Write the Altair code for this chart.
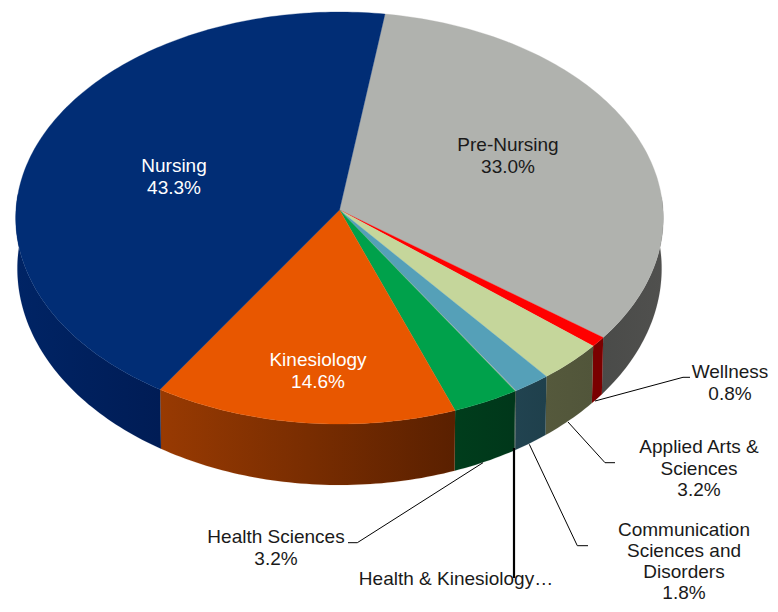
import math
import altair as alt

# ---- data ----
categories = ["Pre-Nursing", "Wellness", "Applied Arts & Sciences",
              "Communication Sciences and Disorders", "Health & Kinesiology", "Health Sciences",
              "Kinesiology", "Nursing"]
shares = [33.0, 0.8, 3.2, 1.8, 0.05, 3.2, 14.6, 43.3]
top_colors = ["#b0b2ae", "#ff0000", "#c5d69b", "#55a0b8", "#9fb0a8", "#00a14b", "#e85700", "#012d75"]
wall_left = ["#4a4b49", "#7a0000", "#55593c", "#214350", "#3a4a44", "#003d1c", "#983a02", "#002465"]
wall_right = ["#50504e", "#7a0000", "#51553a", "#1f404c", "#3a4a44", "#00371a", "#5a2000", "#001c55"]

label_text = ["Nursing", "43.3%", "Pre-Nursing", "33.0%", "Kinesiology", "14.6%",
              "Wellness", "0.8%", "Applied Arts &", "Sciences", "3.2%",
              "Communication", "Sciences and", "Disorders", "1.8%",
              "Health Sciences", "3.2%", "Health & Kinesiology…"]
label_x = [174, 174, 508, 508, 318, 318, 730, 730, 699, 699, 699,
           684, 684, 684, 684, 276, 276, 456]
label_y = [166, 188, 145, 167, 360, 382, 372, 394, 447, 469, 490,
           530, 551, 572, 593, 537, 559, 579]
label_color = ["#ffffff"] * 2 + ["#1a1a1a"] * 2 + ["#ffffff"] * 2 + ["#1a1a1a"] * 12

leader_x = [[595, 683, 690], [568, 605, 615], [529.3, 577.3, 588], [514, 514], [483, 357.3, 348]]
leader_y = [[401, 377.3, 377.3], [422, 462.7, 462.7], [444.3, 545.7, 545.7], [448, 578], [462.7, 542.7, 542.7]]
leader_w = [1, 1, 1, 2.2, 1]

# ---- pie geometry ----
CX, CY, RX, RY, K = 339.5, 210.0, 323.5, 205.7, 0.0388
START = 8.4


def top(a):
    r = math.radians(a)
    u, v = math.sin(r), -math.cos(r)
    f = 1 / (1 - K * v)
    return CX + RX * u * f, CY + RY * v * f


def bottom(a):
    x, y = top(a)
    v = -math.cos(math.radians(a))
    return CX + (x - CX) * 0.995, y + 50 + 11 * max(v, 0)


def feature(coords, color, kind="Polygon"):
    geom = [coords] if kind == "Polygon" else coords
    return {"type": "Feature", "properties": {"color": color},
            "geometry": {"type": kind, "coordinates": geom}}


proj = dict(type="identity", scale=1, translate=[-8, -8])

total = sum(shares)
tops, wall_layers = [], []
ang = START
for s, tc, wl, wr in zip(shares, top_colors, wall_left, wall_right):
    sweep = s / total * 360
    n = max(1, math.ceil(sweep / 1.0))
    angs = [ang + sweep * i / n for i in range(n + 1)]
    tops.append(feature([[CX, CY]] + [list(top(a)) for a in angs] + [[CX, CY]], tc))
    seen = [a for a in angs if -math.cos(math.radians(a)) > -0.08]
    if len(seen) >= 2:
        ring = [list(top(a)) for a in seen] + [list(bottom(a)) for a in reversed(seen)]
        ring.append(ring[0])
        grad = alt.Gradient(gradient="linear", x1=0, x2=1, y1=0, y2=0,
                            stops=[alt.GradientStop(color=wl, offset=0),
                                   alt.GradientStop(color=wr, offset=1)])
        wall_layers.append(alt.Chart(alt.Data(values=[feature(ring, wl)]))
                           .mark_geoshape(fill=grad, stroke=wl, strokeWidth=0.2, strokeOpacity=0.6)
                           .project(**proj))
    ang += sweep

leaders = []
for xs, ys, w in zip(leader_x, leader_y, leader_w):
    f = feature([[x, y] for x, y in zip(xs, ys)], "#000000", "LineString")
    f["properties"]["w"] = w
    leaders.append(f)

top_layer = (alt.Chart(alt.Data(values=tops))
             .mark_geoshape(strokeWidth=0.3)
             .encode(fill=alt.Fill("properties.color:N", scale=None),
                     stroke=alt.Stroke("properties.color:N", scale=None))
             .project(**proj))
line_layer = (alt.Chart(alt.Data(values=leaders))
              .mark_geoshape(filled=False)
              .encode(stroke=alt.Stroke("properties.color:N", scale=None),
                      strokeWidth=alt.StrokeWidth("properties.w:Q", scale=None))
              .project(**proj))
text_rows = [{"t": t, "x": x, "y": y, "c": c}
             for t, x, y, c in zip(label_text, label_x, label_y, label_color)]
text_layer = (alt.Chart(alt.Data(values=text_rows))
              .mark_text(font="Liberation Sans", fontSize=19, baseline="middle", align="center")
              .encode(longitude="x:Q", latitude="y:Q", text="t:N",
                      color=alt.Color("c:N", scale=None))
              .project(**proj))

chart = (alt.layer(*wall_layers, top_layer, line_layer, text_layer)
         .properties(width=762, height=596, padding=0,
                     autosize=alt.AutoSizeParams(type="none"))
         .configure_view(stroke=None))
chart.save("out.html", embed_options={"renderer": "svg", "actions": False})
